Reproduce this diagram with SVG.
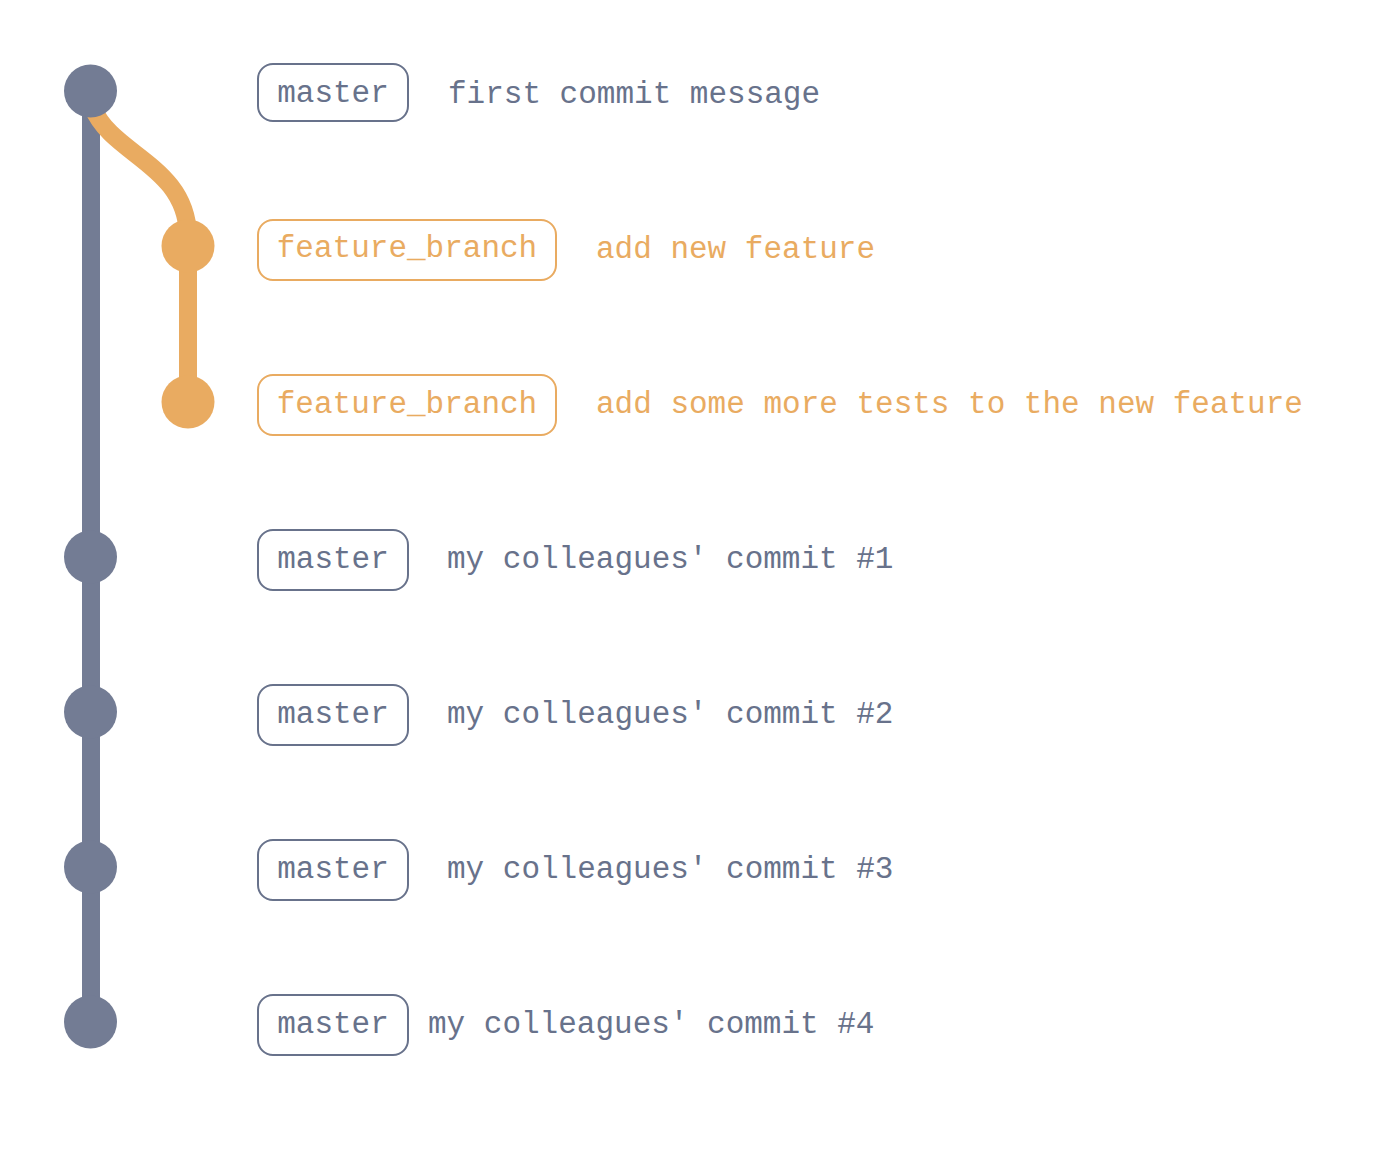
<svg xmlns="http://www.w3.org/2000/svg" width="1400" height="1170" viewBox="0 0 1400 1170">
<style>
text{font-family:"Liberation Mono","DejaVu Sans Mono",monospace;font-size:31px}
.g{fill:#68728b}
.o{fill:#e9ab61}
.bg{fill:#fff;stroke:#68728b;stroke-width:2}
.bo{fill:#fff;stroke:#e9ab61;stroke-width:2}
.cg{fill:#737c94}
.co{fill:#e9ab61}
.lab{text-anchor:middle}
</style>
<rect width="1400" height="1170" fill="#fff"/>
<g id="connectors" fill="none" stroke-width="18">
<line x1="91" y1="91" x2="91" y2="1022" stroke="#737c94"/>
<path d="M 93 108 C 112 155, 186 165, 188 235 L 188 402" stroke="#e9ab61"/>
</g>
<g id="c1"><circle class="cg" cx="90.5" cy="91" r="26.5"/><rect class="bg" x="258" y="64" width="150" height="57" rx="15"/><text class="g lab" x="333" y="102">master</text><text class="g" x="448" y="103">first commit message</text></g>
<g id="c2"><circle class="co" cx="188" cy="246" r="26.5"/><rect class="bo" x="258" y="220" width="298" height="60" rx="15"/><text class="o lab" x="407" y="257">feature_branch</text><text class="o" x="596" y="258">add new feature</text></g>
<g id="c3"><circle class="co" cx="188" cy="402" r="26.5"/><rect class="bo" x="258" y="375" width="298" height="60" rx="15"/><text class="o lab" x="407" y="413">feature_branch</text><text class="o" x="596" y="413">add some more tests to the new feature</text></g>
<g id="c4"><circle class="cg" cx="90.5" cy="557" r="26.5"/><rect class="bg" x="258" y="530" width="150" height="60" rx="15"/><text class="g lab" x="333" y="568">master</text><text class="g" x="447" y="568">my colleagues' commit #1</text></g>
<g id="c5"><circle class="cg" cx="90.5" cy="712" r="26.5"/><rect class="bg" x="258" y="685" width="150" height="60" rx="15"/><text class="g lab" x="333" y="723">master</text><text class="g" x="447" y="723">my colleagues' commit #2</text></g>
<g id="c6"><circle class="cg" cx="90.5" cy="867" r="26.5"/><rect class="bg" x="258" y="840" width="150" height="60" rx="15"/><text class="g lab" x="333" y="878">master</text><text class="g" x="447" y="878">my colleagues' commit #3</text></g>
<g id="c7"><circle class="cg" cx="90.5" cy="1022" r="26.5"/><rect class="bg" x="258" y="995" width="150" height="60" rx="15"/><text class="g lab" x="333" y="1033">master</text><text class="g" x="428" y="1033">my colleagues' commit #4</text></g>
</svg>
